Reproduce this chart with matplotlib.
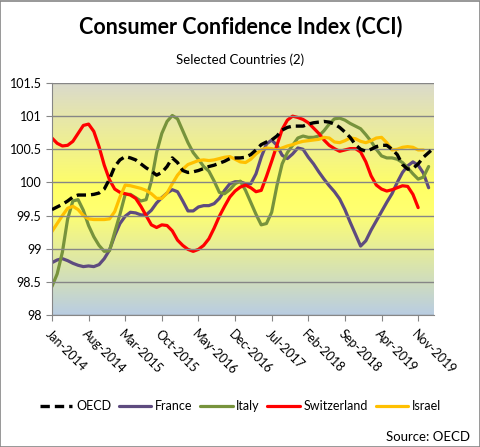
import matplotlib
matplotlib.use('Agg')
import matplotlib.pyplot as plt
import numpy as np
from matplotlib.colors import LinearSegmentedColormap
from matplotlib.patches import Rectangle

plt.rcParams['font.family'] = ['Lato', 'DejaVu Sans']

# monthly values, Jan-2014 onwards
oecd = [99.59, 99.63, 99.67, 99.72, 99.78, 99.81, 99.81, 99.81, 99.82, 99.84,
        99.90, 100.05, 100.24, 100.34, 100.39, 100.37, 100.34, 100.28, 100.22, 100.17,
        100.11, 100.15, 100.24, 100.37, 100.30, 100.18, 100.15, 100.16, 100.18, 100.21,
        100.24, 100.26, 100.29, 100.32, 100.36, 100.37, 100.37, 100.38, 100.42, 100.49,
        100.57, 100.61, 100.64, 100.70, 100.79, 100.83, 100.85, 100.85, 100.85, 100.88,
        100.90, 100.91, 100.92, 100.91, 100.88, 100.83, 100.76, 100.68, 100.57, 100.50,
        100.47, 100.50, 100.54, 100.56, 100.56, 100.50, 100.42, 100.27, 100.20, 100.21,
        100.28, 100.38, 100.45, 100.52]
france = [98.79, 98.83, 98.85, 98.82, 98.78, 98.75, 98.73, 98.74, 98.73, 98.76,
          98.85, 98.98, 99.20, 99.38, 99.49, 99.55, 99.54, 99.51, 99.51, 99.58,
          99.69, 99.77, 99.84, 99.89, 99.86, 99.72, 99.57, 99.57, 99.63, 99.65,
          99.65, 99.68, 99.76, 99.88, 99.98, 100.01, 100.01, 99.98, 99.98, 100.13,
          100.38, 100.58, 100.64, 100.56, 100.41, 100.36, 100.43, 100.52, 100.50, 100.38,
          100.28, 100.16, 100.05, 99.95, 99.86, 99.75, 99.59, 99.40, 99.22, 99.04,
          99.12, 99.28, 99.42, 99.56, 99.70, 99.83, 100.00, 100.15, 100.25, 100.31,
          100.26, 100.14, 99.92]
italy = [98.43, 98.62, 98.95, 99.45, 99.72, 99.74, 99.58, 99.35, 99.18, 99.05,
         98.96, 98.97, 99.25, 99.52, 99.82, 99.82, 99.77, 99.72, 99.74, 100.02,
         100.45, 100.74, 100.92, 101.01, 100.96, 100.78, 100.60, 100.45, 100.35, 100.24,
         100.17, 100.02, 99.85, 99.83, 99.89, 99.98, 100.02, 99.88, 99.70, 99.52,
         99.36, 99.38, 99.55, 99.95, 100.28, 100.45, 100.56, 100.67, 100.70, 100.68,
         100.68, 100.70, 100.78, 100.88, 100.96, 100.97, 100.94, 100.89, 100.85, 100.81,
         100.72, 100.62, 100.50, 100.40, 100.37, 100.37, 100.35, 100.30, 100.22, 100.13,
         100.05, 100.08, 100.24]
switzerland = [100.67, 100.59, 100.55, 100.56, 100.62, 100.74, 100.86, 100.88, 100.77, 100.54,
               100.26, 100.04, 99.90, 99.85, 99.83, 99.81, 99.76, 99.64, 99.50, 99.36,
               99.32, 99.36, 99.35, 99.27, 99.13, 99.05, 98.99, 98.96, 98.99, 99.05,
               99.15, 99.31, 99.49, 99.64, 99.78, 99.87, 99.93, 99.96, 99.92, 99.86,
               99.88, 100.09, 100.32, 100.56, 100.80, 100.94, 101.00, 100.98, 100.95, 100.90,
               100.82, 100.74, 100.64, 100.56, 100.51, 100.47, 100.49, 100.51, 100.51, 100.46,
               100.31, 100.10, 99.96, 99.90, 99.87, 99.89, 99.92, 99.95, 99.94, 99.82,
               99.62]
israel = [99.26, 99.38, 99.50, 99.61, 99.64, 99.59, 99.50, 99.45, 99.44, 99.44,
          99.44, 99.45, 99.56, 99.78, 99.96, 99.95, 99.93, 99.91, 99.88, 99.83,
          99.76, 99.76, 99.84, 99.98, 100.11, 100.20, 100.27, 100.30, 100.33, 100.34,
          100.33, 100.34, 100.36, 100.38, 100.39, 100.35, 100.31, 100.30, 100.35, 100.43,
          100.49, 100.52, 100.51, 100.49, 100.52, 100.55, 100.57, 100.60, 100.62, 100.63,
          100.64, 100.65, 100.68, 100.67, 100.61, 100.60, 100.63, 100.67, 100.66, 100.62,
          100.60, 100.63, 100.67, 100.68, 100.60, 100.49, 100.50, 100.53, 100.54, 100.53,
          100.49, 100.49]

tick_labels = ['Jan-2014', 'Aug-2014', 'Mar-2015', 'Oct-2015', 'May-2016', 'Dec-2016',
               'Jul-2017', 'Feb-2018', 'Sep-2018', 'Apr-2019', 'Nov-2019']
y_ticks = [98, 98.5, 99, 99.5, 100, 100.5, 101, 101.5]

series = [('OECD', oecd, 'black'),
          ('France', france, '#5e4b7f'),
          ('Italy', italy, '#77933c'),
          ('Switzerland', switzerland, '#ff0000'),
          ('Israel', israel, '#ffc000')]

fig = plt.figure(figsize=(4.81, 4.47), dpi=100)
fig.patches.append(Rectangle((0.001, 0.001), 0.997, 0.997, transform=fig.transFigure,
                             fill=False, edgecolor='#868686', linewidth=1.2))
ax = fig.add_axes([0.108, 0.2953, 0.794, 0.519])

# gradient background
n_months = len(oecd) - 1
cmap = LinearSegmentedColormap.from_list('bg', [(0, '#dadacb'), (0.45, '#ffff66'),
                                                (0.55, '#ffff70'), (1, '#b9cde2')])
ax.imshow(np.linspace(0, 1, 256).reshape(-1, 1), cmap=cmap, aspect='auto',
          extent=[0, n_months, 98, 101.5], origin='upper', zorder=0)

for name, vals, col in series:
    x = np.arange(len(vals))
    if name == 'OECD':
        ax.plot(x, vals, color=col, lw=2.4, linestyle=(0, (2.8, 1.5)), label=name, zorder=3)
    else:
        ax.plot(x, vals, color=col, lw=2.3, label=name, solid_capstyle='round',
                solid_joinstyle='round', zorder=2)

ax.set_xlim(0, n_months)
ax.set_ylim(98, 101.5)
ax.set_yticks(y_ticks)
ax.set_yticklabels(['98', '98.5', '99', '99.5', '100', '100.5', '101', '101.5'])
ax.set_xticks(np.arange(0, n_months + 1, 7))
ax.set_xticklabels(tick_labels, rotation=-45, ha='left', va='top', rotation_mode='anchor')
ax.grid(axis='y', color='#868686', lw=1)
ax.set_axisbelow(False)
for s in ['top', 'right']:
    ax.spines[s].set_visible(False)
for s in ['left', 'bottom']:
    ax.spines[s].set_color('#868686')
ax.tick_params(axis='both', colors='#868686', labelcolor='black', labelsize=9, length=4)
ax.tick_params(axis='x', pad=5)

fig.text(0.5, 0.94, 'Consumer Confidence Index (CCI)', ha='center', va='center',
         fontsize=15.5, fontweight='bold')
fig.text(0.5, 0.866, 'Selected Countries (2)', ha='center', va='center', fontsize=9.5)

fig.legend(loc='center', bbox_to_anchor=(0.5, 0.092), ncol=5, frameon=False,
           fontsize=9, handlelength=2.6, columnspacing=0.6, handletextpad=0.3)
fig.text(0.977, 0.022, 'Source: OECD', ha='right', va='center', fontsize=9.5)

fig.savefig('out.png', dpi=100)
